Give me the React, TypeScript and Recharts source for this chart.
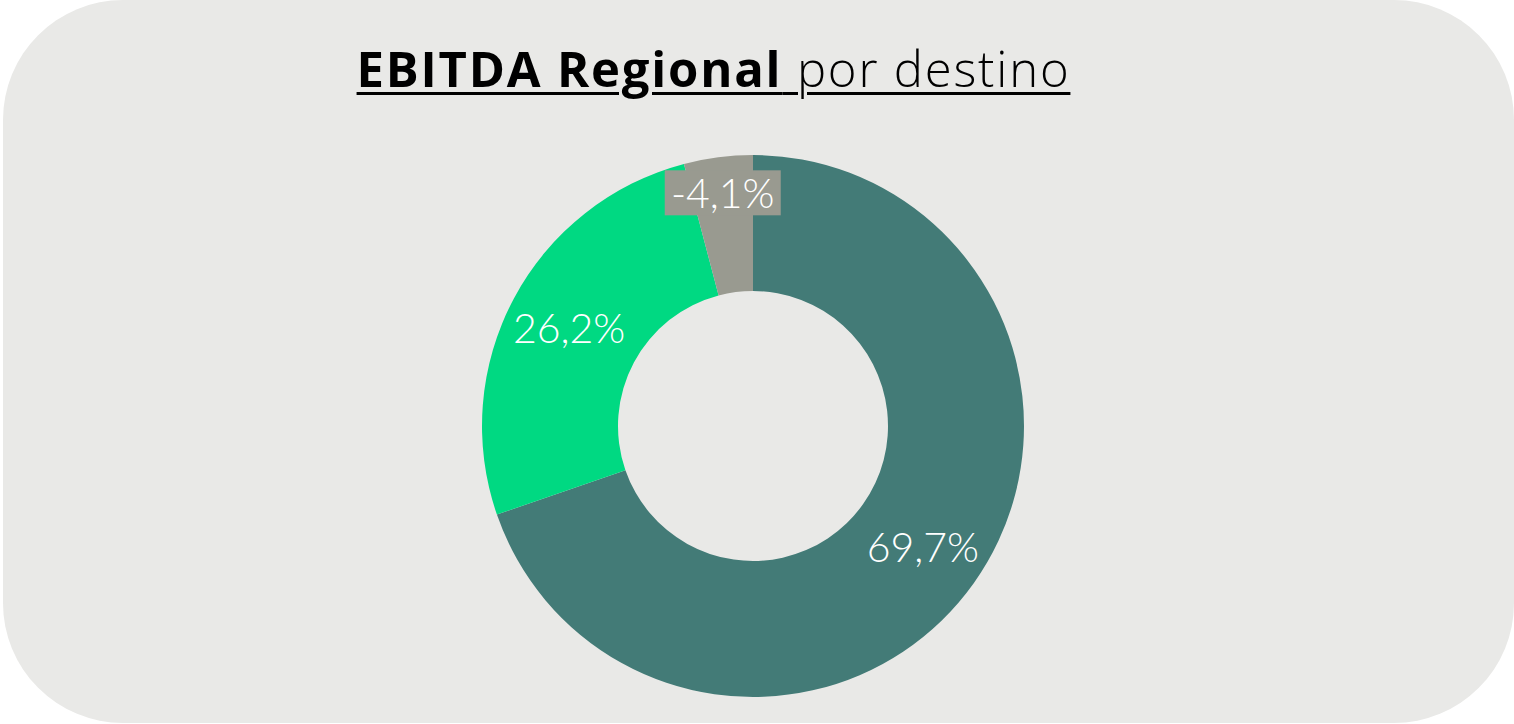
import { PieChart, Pie, Cell } from 'recharts';

const regions = ['Destino 1', 'Destino 2', 'Destino 3'];
const shares = [69.7, 26.2, -4.1];
const colors = ['#437b77', '#00d982', '#999a90'];

const data = regions.map((name, i) => ({
  name,
  share: shares[i],
  size: Math.abs(shares[i]),
}));

const RADIAN = Math.PI / 180;

function renderLabel(props: any) {
  const { cx, cy, midAngle, innerRadius, outerRadius, index } = props;
  const item = data[index];
  const ratio = item.size < 10 ? 0.74 : 0.54;
  const r = innerRadius + (outerRadius - innerRadius) * ratio;
  const x = cx + r * Math.cos(-midAngle * RADIAN);
  const y = cy + r * Math.sin(-midAngle * RADIAN);
  const text = item.share.toFixed(1).replace('.', ',') + '%';
  return (
    <g>
      {item.size < 10 && (
        <rect x={x - 58} y={y - 22} width={116} height={45} fill={colors[index]} />
      )}
      <text
        x={x}
        y={y}
        fill="#ffffff"
        textAnchor="middle"
        dominantBaseline="central"
        fontFamily="Lato, 'Open Sans', sans-serif"
        fontWeight={300}
        fontSize={41}
      >
        {text}
      </text>
    </g>
  );
}

export default function App() {
  return (
    <div
      style={{
        position: 'absolute',
        left: 3,
        top: 0,
        width: 1511,
        height: 723,
        background: '#e9e9e7',
        borderRadius: 120,
        overflow: 'hidden',
      }}
    >
      <div
        style={{
          position: 'absolute',
          left: 0,
          width: 1421,
          top: 36,
          textAlign: 'center',
          fontFamily: "'Open Sans', sans-serif",
          fontSize: 49,
          letterSpacing: 1.8,
          lineHeight: '64px',
          color: '#000',
          textDecoration: 'underline',
          textDecorationThickness: 3,
          textUnderlineOffset: 5,
        }}
      >
        <span style={{ fontWeight: 700 }}>EBITDA Regional</span>
        <span style={{ fontWeight: 300 }}> por destino</span>
      </div>
      <PieChart width={1511} height={723} style={{ position: 'absolute', left: 0, top: 0 }}>
        <Pie
          data={data}
          dataKey="size"
          nameKey="name"
          cx={745}
          cy={421}
          innerRadius={135}
          outerRadius={271}
          startAngle={90}
          endAngle={-270}
          stroke="none"
          label={renderLabel}
          labelLine={false}
          isAnimationActive={false}
        >
          {data.map((d, i) => (
            <Cell key={d.name} fill={colors[i]} />
          ))}
        </Pie>
      </PieChart>
    </div>
  );
}
